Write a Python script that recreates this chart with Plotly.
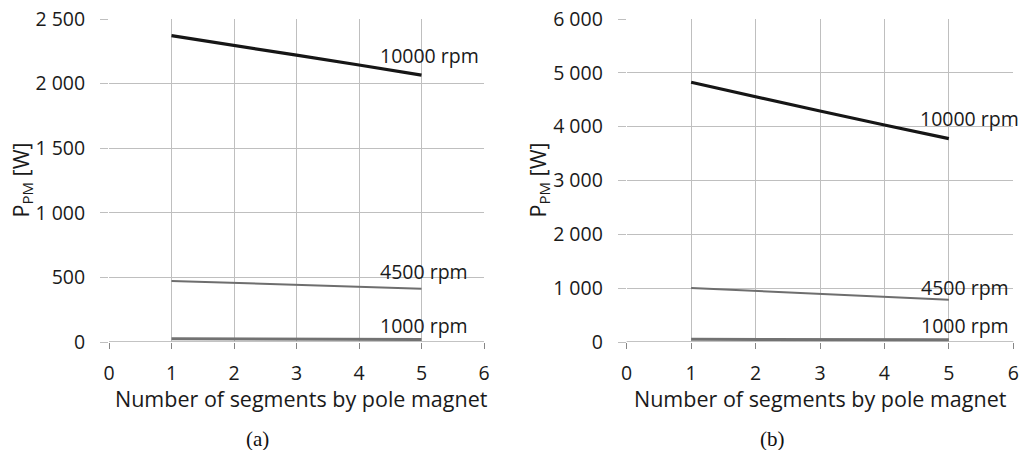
import plotly.graph_objects as go

segments = [1, 2, 3, 4, 5]
labels = ["10000 rpm", "4500 rpm", "1000 rpm"]

# panel (a)
a_10000 = [2371, 2293, 2220, 2144, 2066]
a_4500 = [472, 458, 443, 428, 413]
a_1000 = [25, 24, 22, 21, 20]
# panel (b)
b_10000 = [4824, 4550, 4290, 4030, 3777]
b_4500 = [1002, 945, 890, 835, 785]
b_1000 = [50, 48, 46, 44, 42]

x_ticks = [0, 1, 2, 3, 4, 5, 6]

W, H = 1021, 450
FONT = "Open Sans"
TXT = "#1a1a1a"
GRID = "#bfbfbf"
AX = "#868686"

fig = go.Figure()

styles = [dict(color="#161616", width=3.2), dict(color="#6e6e6e", width=2), dict(color="#727272", width=3)]
panels = [
    ("x", "y", [a_10000, a_4500, a_1000]),
    ("x2", "y2", [b_10000, b_4500, b_1000]),
]
for xa, ya, series in panels:
    for vals, st, name in zip(series, styles, labels):
        fig.add_trace(go.Scatter(x=segments, y=vals, mode="lines", line=st, name=name,
                                 xaxis=xa, yaxis=ya, showlegend=False, hoverinfo="skip"))

def px2x(p):
    return p / W

def px2y(p):
    return 1 - p / H

common_x = dict(range=[0, 6], tickvals=x_ticks, showgrid=True, gridcolor=GRID, gridwidth=1,
                zeroline=False, showline=False, ticks="outside", ticklen=6, tickcolor=AX,
                tickfont=dict(family=FONT, size=19.5, color=TXT), ticklabelstandoff=8,
                automargin=False, fixedrange=True)
common_y = dict(showgrid=True, gridcolor=GRID, gridwidth=1, zeroline=False, showline=False,
                ticks="outside", ticklen=8, tickcolor=GRID, tickformat=",d",
                tickfont=dict(family=FONT, size=19.5, color=TXT), ticklabelstandoff=11,
                automargin=False, fixedrange=True)

ydom = [px2y(342), px2y(19)]
fig.update_layout(
    width=W, height=H, margin=dict(l=0, r=0, t=0, b=0, pad=0, autoexpand=False),
    paper_bgcolor="white", plot_bgcolor="white", separators=". ", showlegend=False,
    xaxis=dict(domain=[px2x(109), px2x(484)], anchor="y", **common_x),
    yaxis=dict(domain=ydom, anchor="x", range=[0, 2500], dtick=500, **common_y),
    xaxis2=dict(domain=[px2x(626.7), px2x(1013.3)], anchor="y2", **common_x),
    yaxis2=dict(domain=ydom, anchor="x2", range=[0, 6000], dtick=1000, **common_y),
)

for xa, ya in [("x", "y"), ("x2", "y2")]:
    fig.add_shape(type="line", xref=f"{xa} domain", yref=ya, x0=0, x1=1, y0=0, y1=0,
                  line=dict(color=AX, width=1), layer="below")

ann = []
offs_a = [(8, 20), (2, 17), (2, 14)]
offs_b = [(21, 20), (16, 12), (16, 14)]
for (xa, ya, series), offs in zip(panels, [offs_a, offs_b]):
    for vals, name, (dx, dy) in zip(series, labels, offs):
        ann.append(dict(x=segments[-1], y=vals[-1], xref=xa, yref=ya, text=name, showarrow=False,
                        xshift=dx, yshift=dy, xanchor="center", yanchor="middle",
                        font=dict(family=FONT, size=19.5, color=TXT)))

for cx in [301.5, 820]:
    ann.append(dict(x=px2x(cx), y=px2y(398), xref="paper", yref="paper",
                    text="Number of segments by pole magnet", showarrow=False,
                    xanchor="center", yanchor="middle", font=dict(family=FONT, size=21.5, color=TXT)))
for cx in [21, 538]:
    ann.append(dict(x=px2x(cx), y=px2y(180.5), xref="paper", yref="paper",
                    text="P<sub>PM</sub> [W]", showarrow=False, textangle=-90,
                    xanchor="center", yanchor="middle", font=dict(family=FONT, size=21.5, color=TXT)))
for cx, t in [(257, "(a)"), (772, "(b)")]:
    ann.append(dict(x=px2x(cx), y=px2y(439), xref="paper", yref="paper", text=t, showarrow=False,
                    xanchor="center", yanchor="middle",
                    font=dict(family="Liberation Serif", size=21, color="#111111")))

fig.update_layout(annotations=ann)
fig.write_html("out.html")
